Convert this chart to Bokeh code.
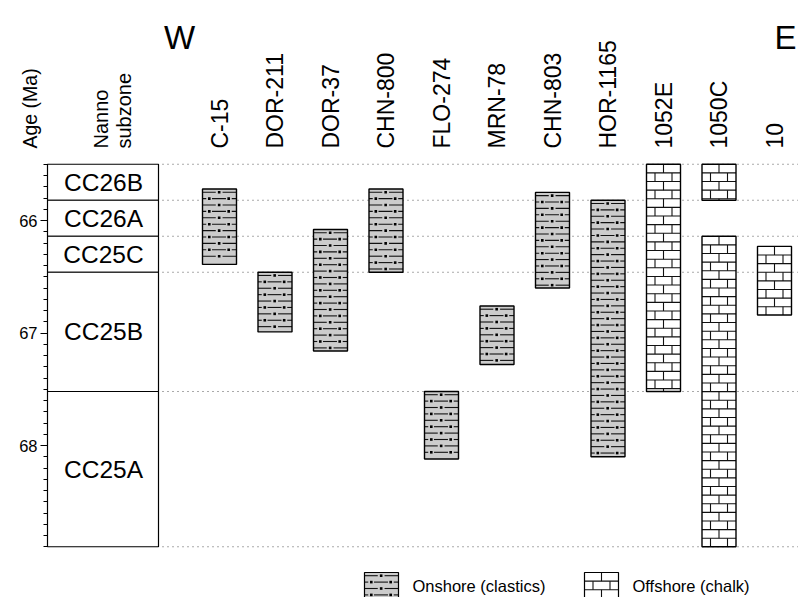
from math import pi
from bokeh.plotting import figure
from bokeh.models import Range1d, LinearAxis, FixedTicker
from bokeh.core.properties import value
from bokeh.embed import file_html
from bokeh.resources import INLINE

# ---------------- data ----------------
wells = ["C-15", "DOR-211", "DOR-37", "CHN-800", "FLO-274", "MRN-78",
         "CHN-803", "HOR-1165", "1052E", "1050C", "10"]

iv_well = ["C-15", "DOR-211", "DOR-37", "CHN-800", "FLO-274", "MRN-78",
           "CHN-803", "HOR-1165", "1052E", "1050C", "1050C", "10"]
iv_top = [65.72, 66.46, 66.08, 65.72, 67.52, 66.76, 65.75, 65.82, 65.50, 65.50, 66.14, 66.23]
iv_base = [66.39, 66.99, 67.16, 66.46, 68.12, 67.28, 66.60, 68.10, 67.52, 65.82, 68.90, 66.84]
iv_lith = ["Onshore", "Onshore", "Onshore", "Onshore", "Onshore", "Onshore",
           "Onshore", "Onshore", "Offshore", "Offshore", "Offshore", "Offshore"]

zone_names = ["CC26B", "CC26A", "CC25C", "CC25B", "CC25A"]
zone_top = [65.50, 65.82, 66.14, 66.46, 67.52]
zone_base = [65.82, 66.14, 66.46, 67.52, 68.90]
zone_bounds = [65.50, 65.82, 66.14, 66.46, 67.52, 68.90]

major_ticks = [66, 67, 68]
minor_ticks = [65.5, 65.6, 65.7, 65.8, 65.9, 66.1, 66.2, 66.3, 66.4, 66.5, 66.6,
               66.7, 66.8, 66.9, 67.1, 67.2, 67.3, 67.4, 67.5, 67.6, 67.7, 67.8,
               67.9, 68.1, 68.2, 68.3, 68.4, 68.5, 68.6, 68.7, 68.8, 68.9]

legend_names = ["Onshore (clastics)", "Offshore (chalk)"]

# ---------------- layout helpers (page px -> data) ----------------
PX_MA = 112.5
def ax(px):
    return (px - 219.0) / 55.5

def ay(py):
    return 66.0 + (py - 220.0) / PX_MA

HW = 17.0 / 55.5
FONT = value("Liberation Sans")

p = figure(width=798, height=597,
           x_range=Range1d(ax(0), ax(798)),
           y_range=Range1d(ay(597), ay(0)),
           x_axis_type=None, y_axis_type=None,
           toolbar_location=None, output_backend="svg",
           min_border_left=0, min_border_right=0,
           min_border_top=0, min_border_bottom=0,
           outline_line_color=None)

yaxis = LinearAxis(ticker=FixedTicker(ticks=major_ticks, minor_ticks=minor_ticks),
                   bounds=(65.5, 68.9), fixed_location=ax(47))
yaxis.axis_line_color = "black"
yaxis.major_tick_out = 7
yaxis.major_tick_in = 0
yaxis.minor_tick_out = 4
yaxis.minor_tick_in = 0
yaxis.major_label_standoff = 3
yaxis.major_label_text_font = "Liberation Sans"
yaxis.major_label_text_font_size = "16.5px"
yaxis.major_label_text_color = "black"
p.add_layout(yaxis, "left")

# dotted zone boundary lines
p.segment(x0=[ax(162)] * len(zone_bounds), x1=[ax(798)] * len(zone_bounds),
          y0=zone_bounds, y1=zone_bounds,
          line_color="#555555", line_width=1, line_dash="1 4")

# zone column
p.quad(left=ax(47), right=ax(158), top=zone_top, bottom=zone_base,
       fill_color="white", line_color="black", line_width=1.2)
p.text(x=[ax(103)] * len(zone_names),
       y=[(a + b) / 2 for a, b in zip(zone_top, zone_base)],
       text=zone_names, text_align="center", text_baseline="middle",
       text_font=FONT, text_font_size=value("24.5px"), text_color="black")

# ---------------- pattern builders ----------------
seg = {"x0": [], "x1": [], "y0": [], "y1": []}
dots = {"x": [], "y": []}
bseg = {"x0": [], "x1": [], "y0": [], "y1": []}

DY_ON = 6.4 / PX_MA
DY_OFF = 8.63 / PX_MA

def clastic(xc, top, base):
    left = xc - HW
    w = 2 * HW
    j = 0
    while True:
        y = top + (j + 0.5) * DY_ON
        if y > base - 0.3 * DY_ON:
            break
        if j % 2 == 0:
            lines = [(0.0, 0.39), (0.59, 1.0)]
            pts = [0.49]
        else:
            lines = [(0.0, 0.11), (0.28, 0.69), (0.86, 1.0)]
            pts = [0.20, 0.77]
        for a, b in lines:
            seg["x0"].append(left + a * w)
            seg["x1"].append(left + b * w)
            seg["y0"].append(y)
            seg["y1"].append(y)
        for c in pts:
            dots["x"].append(left + c * w)
            dots["y"].append(y)
        j += 1

def chalk(xc, top, base):
    left = xc - HW
    w = 2 * HW
    j = 0
    while True:
        y0 = top + j * DY_OFF
        if y0 >= base - 0.05 * DY_OFF:
            break
        y1 = min(top + (j + 1) * DY_OFF, base)
        if j > 0:
            bseg["x0"].append(left)
            bseg["x1"].append(left + w)
            bseg["y0"].append(y0)
            bseg["y1"].append(y0)
        cols = [0.5] if j % 2 == 0 else [0.25, 0.75]
        for c in cols:
            bseg["x0"].append(left + c * w)
            bseg["x1"].append(left + c * w)
            bseg["y0"].append(y0)
            bseg["y1"].append(y1)
        j += 1

# ---------------- bars ----------------
xc_list = [wells.index(w) for w in iv_well]
on = [i for i, l in enumerate(iv_lith) if l == "Onshore"]
off = [i for i, l in enumerate(iv_lith) if l == "Offshore"]

p.quad(left=[xc_list[i] - HW for i in on], right=[xc_list[i] + HW for i in on],
       top=[iv_top[i] for i in on], bottom=[iv_base[i] for i in on],
       fill_color="#cccccc", line_color=None)
p.quad(left=[xc_list[i] - HW for i in off], right=[xc_list[i] + HW for i in off],
       top=[iv_top[i] for i in off], bottom=[iv_base[i] for i in off],
       fill_color="white", line_color=None)

for i in on:
    clastic(xc_list[i], iv_top[i], iv_base[i])
for i in off:
    chalk(xc_list[i], iv_top[i], iv_base[i])

# legend swatches
LEG_TOP = ay(572)
LEG_BASE = ay(604)
leg_x = [ax(381), ax(601)]
p.quad(left=[leg_x[0] - HW], right=[leg_x[0] + HW], top=[LEG_TOP], bottom=[LEG_BASE],
       fill_color="#cccccc", line_color=None)
p.quad(left=[leg_x[1] - HW], right=[leg_x[1] + HW], top=[LEG_TOP], bottom=[LEG_BASE],
       fill_color="white", line_color=None)
clastic(leg_x[0], LEG_TOP, LEG_BASE)
chalk(leg_x[1], LEG_TOP, LEG_BASE)

p.segment(x0="x0", x1="x1", y0="y0", y1="y1", source=seg,
          line_color="#111111", line_width=1.1)
p.scatter(x="x", y="y", source=dots, marker="square", size=2.6,
          fill_color="black", line_color=None)
p.segment(x0="x0", x1="x1", y0="y0", y1="y1", source=bseg,
          line_color="#111111", line_width=1.1)

# outlines
p.quad(left=[xc_list[i] - HW for i in range(len(iv_well))],
       right=[xc_list[i] + HW for i in range(len(iv_well))],
       top=iv_top, bottom=iv_base,
       fill_color=None, line_color="black", line_width=1.4)
p.quad(left=[x - HW for x in leg_x], right=[x + HW for x in leg_x],
       top=[LEG_TOP] * 2, bottom=[LEG_BASE] * 2,
       fill_color=None, line_color="black", line_width=1.2)

p.text(x=[ax(412), ax(632)], y=[ay(585)] * 2, text=legend_names,
       text_align="left", text_baseline="middle",
       text_font=FONT, text_font_size=value("16.5px"), text_color="black")

# column labels
p.text(x=list(range(len(wells))), y=[ay(148)] * len(wells), text=wells,
       angle=pi / 2, text_align="left", text_baseline="middle",
       text_font=FONT, text_font_size=value("23px"), text_color="black")

# W / E
p.text(x=[ax(179)], y=[ay(37)], text=["W"], text_align="center",
       text_baseline="alphabetic", text_font=FONT,
       text_font_size=value("33px"), text_color="black")
p.text(x=[ax(774)], y=[ay(37)], text=["E"], text_align="left",
       text_baseline="alphabetic", text_font=FONT,
       text_font_size=value("33px"), text_color="black")

# headers of zone column
p.text(x=[ax(100), ax(123)], y=[ay(148)] * 2, text=["Nanno", "subzone"],
       angle=pi / 2, text_align="left", text_baseline="alphabetic",
       text_font=FONT, text_font_size=value("20px"), text_color="black")

p.text(x=[ax(29)], y=[ay(148)], text=["Age (Ma)"], angle=pi / 2,
       text_align="left", text_baseline="alphabetic",
       text_font=FONT, text_font_size=value("19.5px"), text_color="black")

open("out.html", "w").write(file_html(p, INLINE))
